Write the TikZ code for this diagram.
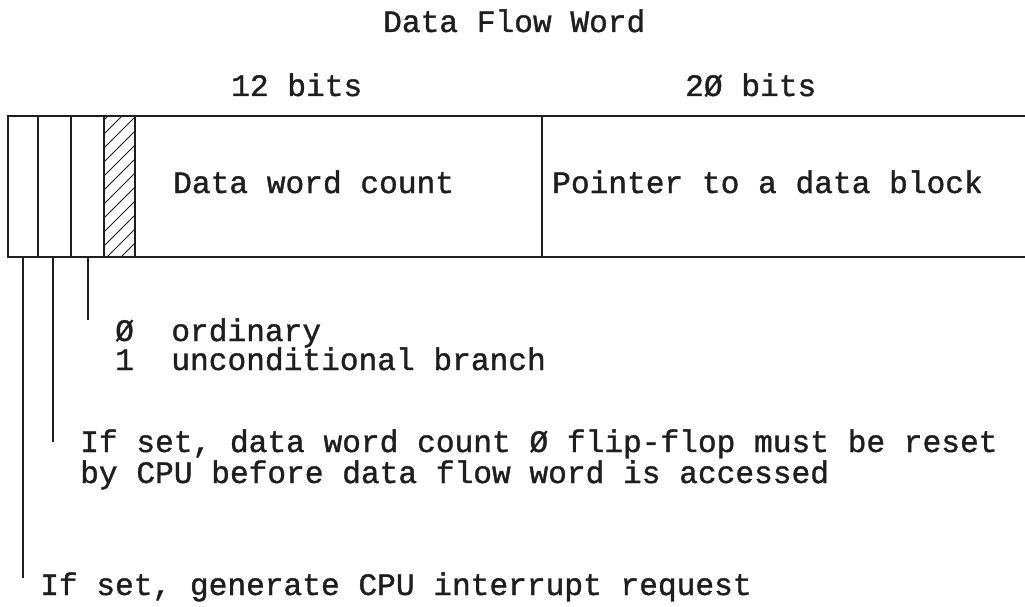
\documentclass[tikz,border=0pt]{standalone}
\usepackage{fontspec}
\setmonofont[FakeBold=1.2]{Liberation Mono}
\definecolor{ink}{HTML}{1E1E1E}
\begin{document}
\begin{tikzpicture}[x=1pt,y=-1pt,
  lbl/.style={font=\ttfamily\fontsize{31.2}{31.2}\selectfont, anchor=base west, inner sep=0pt, text=ink},
  wire/.style={line width=2.9pt, draw=ink},
  hatch/.style={line width=1pt, draw=ink}]
\useasboundingbox[fill=white] (0,0) rectangle (1025,607);
% box corners and dividers
\coordinate (tl) at (8,116);
\coordinate (bl) at (8,257);
\coordinate (tr) at (1025,116);
\coordinate (br) at (1025,257);
\draw[wire] (tr) -- (tl) -- (bl) -- (br);
\foreach \x in {38,71,104,135,542} \draw[wire] (\x,116) -- (\x,257);
% hatching
\begin{scope}
\clip (104,116) rectangle (135,257);
\foreach \i in {0,...,12} \draw[hatch] (104,{120+\i*14}) -- ++(31,-31);
\end{scope}
% texts
\node[lbl] (title) at (383,32) {Data Flow Word};
\node[lbl] (b12) at (231,96) {12 bits};
\node[lbl] (b20) at (685,96) {2Ø bits};
\node[lbl] (dwc) at (173,193) {Data word count};
\node[lbl] (ptr) at (552,193) {Pointer to a data block};
\node[lbl] (ord) at (115,341) {Ø\ \ ordinary};
\node[lbl] (unc) at (115,370) {1\ \ unconditional branch};
\node[lbl] (ff1) at (80,452) {If set, data word count Ø flip-flop must be reset};
\node[lbl] (ff2) at (80,483) {by CPU before data flow word is accessed};
\node[lbl] (irq) at (40,595) {If set, generate CPU interrupt request};
% leader lines
\coordinate (c1) at (23,257);
\coordinate (c2) at (53,257);
\coordinate (c3) at (88,257);
\coordinate (e1) at (23,578);
\coordinate (e2) at (53,442);
\coordinate (e3) at (88,320);
\draw[wire] (c1) -- (e1);
\draw[wire] (c2) -- (e2);
\draw[wire] (c3) -- (e3);
\end{tikzpicture}
\end{document}
